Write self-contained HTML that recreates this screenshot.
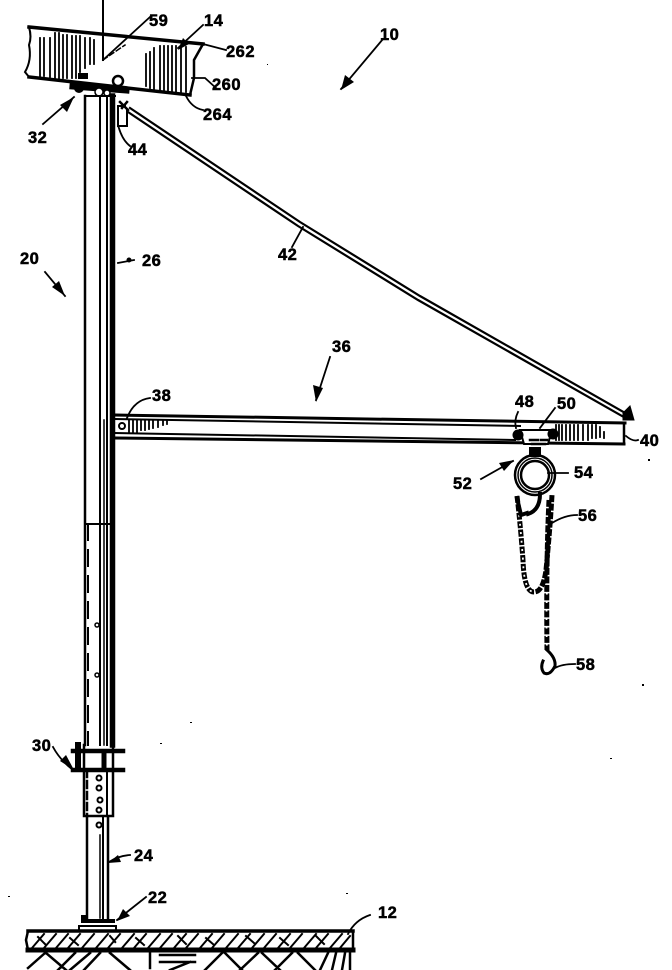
<!DOCTYPE html>
<html><head><meta charset="utf-8"><style>
html,body{margin:0;padding:0;background:#fff}
svg{display:block}
text{font-family:"Liberation Sans",sans-serif;font-size:16.500px;font-weight:bold;fill:#000;stroke:#000;stroke-width:.5px;letter-spacing:.5px}
</style></head><body>
<svg width="672" height="970" viewBox="0 0 672 970" xmlns="http://www.w3.org/2000/svg">
<rect width="672" height="970" fill="#fff"/>
<g fill="none" stroke="#000" stroke-width="2" stroke-linecap="square">
<!-- vertical line -->
<path d="M103 0V60" stroke-width="2"/>
<path d="M103 60L125 45" stroke-width="1.500" stroke-dasharray="5 3"/>
<!-- beam -->
<path d="M29 27L203 44" stroke-width="3.500"/>
<path d="M29 77L190 95" stroke-width="3.500"/>
<path d="M29 27Q32 37 29 45Q32 60 25 72L29 77" stroke-width="2"/>
<path d="M203 44L194 60V78L190 95" stroke-width="2.500"/>
<path d="M40 38V76M44 38V76M50 38V77M55 33V78M59 33V78M63 35V78M67 35V78M72 36V78M76 36V78M80 36V72M85 38V68M90 38V64M94 40V64M146 54V86M150 52V88M154 48V89M160 46V90M164 46V90M168 46V91M172 46V91M176 46V92M181 47V92M186 47V92" stroke-width="1.800"/>
<!-- plate & bolts -->
<path d="M73 86L126 90" stroke-width="7"/>
<rect x="78" y="73" width="10" height="6" fill="#000" stroke="none"/>
<circle cx="118" cy="81" r="5" fill="#fff" stroke-width="2.500"/>
<circle cx="99" cy="92" r="4" fill="#fff" stroke-width="1.500"/>
<circle cx="107" cy="93" r="3" fill="#fff" stroke-width="1.500"/>
<circle cx="79" cy="88" r="5" fill="#000" stroke="none"/>
<!-- upper column -->
<path d="M85 96V745" stroke-width="2.500"/>
<path d="M100 96V745" stroke-width="2"/>
<path d="M107 96V745" stroke-width="2"/>
<path d="M85 96H115" stroke-width="2"/>
<path d="M112.500 96V745" stroke-width="5.500"/>
<path d="M85 524H110" stroke-width="2"/>
<path d="M88 524V745" stroke-width="2" stroke-dasharray="16 10"/>
<path d="M104 420V745" stroke-width="1.500"/>
<circle cx="97" cy="625" r="2" stroke-width="1.500"/><circle cx="97" cy="675" r="2" stroke-width="1.500"/>
<!-- boom -->
<path d="M115 415L625 423" stroke-width="3"/>
<path d="M115 419L520 426" stroke-width="2"/>
<path d="M115 433L515 440" stroke-width="2"/>
<path d="M115 438L624 444" stroke-width="3"/>
<path d="M624 423V444" stroke-width="2.500"/>
<circle cx="122" cy="426" r="3" stroke-width="2"/>
<path d="M129 420V432M133 420V432M137 420V432M141 420V430M145 420V430M149 420V429M153 420V428M158 420V427M163 420V425M167 420V424M556 425V440M559 425V440M562 425V440M566 425V440M570 425V440M574 425V440M578 425V440M583 425V440M588 425V440M592 425V438M596 425V438M600 427V437M604 432V438" stroke-width="1.800"/>
<!-- cable -->
<path d="M130 108L300 222L420 296L627 414" stroke-width="2.200"/>
<path d="M128 112L298 226L418 300L622 416" stroke-width="2.200"/>
<path d="M623 413L630 406L634 420H623Z" fill="#000" stroke-width="1"/>
<!-- bracket 44 -->
<path d="M118 106H125M118 106V126H127V110" stroke-width="2"/>
<path d="M120 102L128 110M127 102L122 108" stroke-width="2.500"/>
<!-- trolley -->
<path d="M520 430H552L548 444H524Z" fill="#fff" stroke-width="2"/>
<circle cx="518" cy="435" r="5.500" fill="#000" stroke="none"/>
<circle cx="553" cy="434" r="5.500" fill="#000" stroke="none"/>
<path d="M530 440H538M541 440H547M532 444H545" stroke-width="2.500"/>
<rect x="529" y="447" width="12" height="10" fill="#000" stroke="none"/>
<!-- hoist -->
<circle cx="535" cy="475" r="20" stroke-width="2.500"/>
<circle cx="535" cy="475" r="17" stroke-width="1.500"/>
<circle cx="535" cy="475" r="14" stroke-width="2.500"/>
<path d="M540 494Q540 510 528 514" stroke-width="4"/>
</g>
<!-- chains -->
<g fill="none" stroke="#000" stroke-linecap="butt">
<path d="M517 496Q520 520 523 560Q524 592 534 592Q543 592 546 570Q550 530 552 495" stroke-width="5" stroke-dasharray="7 1.500"/>
<path d="M549 500Q546 560 547 650" stroke-width="5" stroke-dasharray="7 1.500"/>
<path d="M517 496Q520 520 523 560Q524 592 534 592" stroke="#fff" stroke-width="1.800" stroke-dasharray="2 6.500" stroke-dashoffset="-2.500"/>
<path d="M547 590Q546 620 547 650" stroke="#fff" stroke-width="1.800" stroke-dasharray="2 6.500" stroke-dashoffset="-2.500"/>
</g>
<g fill="none" stroke="#000" stroke-width="2" stroke-linecap="square">
<path d="M517 498L521 515L527 513" stroke-width="4"/>
<path d="M547 650Q556 658 555 666Q550 676 544 673Q540 668 543 661" stroke-width="3"/>
<!-- lower sleeve -->
<path d="M84 745V816H113V745" stroke-width="2.500"/>
<path d="M73 751H123" stroke-width="4.500"/>
<path d="M73 770H123" stroke-width="4.500"/>
<path d="M78 745V768" stroke-width="6"/><path d="M104 752V768" stroke-width="5"/>
<path d="M87 770V816" stroke-width="2.500" stroke-dasharray="7 4"/>
<path d="M107 770V816" stroke-width="2"/>
<circle cx="99" cy="778" r="2.500"/><circle cx="99" cy="788" r="2.500"/><circle cx="100" cy="800" r="2.500"/><circle cx="99" cy="810" r="2.500"/><circle cx="99" cy="825" r="2.500"/>
<!-- lower post -->
<path d="M87 817V920" stroke-width="2.500"/>
<path d="M108 817V920" stroke-width="2.500"/>
<path d="M103 817V918" stroke-width="2"/>
<path d="M100 835V918" stroke-width="1.500"/>
<path d="M83 921H113" stroke-width="4"/>
<path d="M79 926H116V931H79Z" stroke-width="2"/>
<rect x="81" y="915" width="6" height="6" fill="#000" stroke="none"/>
<!-- ground -->
<path d="M28 931H353" stroke-width="3.500"/>
<path d="M28 950H353" stroke-width="5"/>
<path d="M28 931L26 940L28 950M353 931V950" stroke-width="2.500"/>
<path d="M32 948L44 934M44 948L56 934M56 948L68 934M68 948L80 934M82 948L94 934M96 948L108 934M108 948L120 934M122 948L134 934M134 948L146 934M148 948L160 934M160 948L172 934M174 948L186 934M186 948L198 934M200 948L212 934M212 948L224 934M226 948L238 934M238 948L250 934M252 948L264 934M264 948L276 934M278 948L290 934M290 948L302 934M304 948L316 934M316 948L328 934M330 948L342 934M340 948L350 936" stroke-width="2"/>
<path d="M38 937L46 945M70 938L78 945M110 936L116 943M136 938L144 945M178 936L186 944M206 938L214 945M246 936L254 943M280 938L288 945M316 936L324 944" stroke-width="2" stroke-dasharray="3 2"/>
<path d="M28 968L45 953M46 953L66 970M58 970L75 953M90 953L70 970M84 970L100 953M110 953L130 970M150 953V968M160 955H195M160 962H195M170 970L190 962M205 970L222 953M225 953L242 970M240 970L258 953M262 953L280 970M275 970L292 953M298 953L315 970M320 970L328 953M332 970L336 953M342 970L345 953M350 970V953" stroke-width="2.500"/>
<!-- leaders and arrows -->
<g stroke-width="1.800">
<path d="M150 17L103 60"/>
<path d="M203 25L178 48"/>
<path d="M203 44L226 50"/>
<path d="M192 78H205L216 88"/>
<path d="M186 96Q192 108 203 110"/>
<path d="M43 124L74 97"/>
<path d="M118 125Q122 140 130 146"/>
<path d="M383 39L341 89"/>
<path d="M134 260L118 263"/>
<path d="M45 272L65 296"/>
<path d="M292 247L303 227"/>
<path d="M330 357L316 400"/>
<path d="M150 398Q134 400 127 418"/>
<path d="M518 412Q514 420 516 428"/>
<path d="M555 408L540 428"/>
<path d="M481 479L513 461"/>
<path d="M568 473H548"/>
<path d="M577 515Q565 515 552 523"/>
<path d="M575 664Q562 664 555 668"/>
<path d="M626 436Q633 442 638 440"/>
<path d="M53 747Q60 760 73 770"/>
<path d="M130 855Q118 856 109 862"/>
<path d="M146 897L117 920"/>
<path d="M370 915Q355 920 348 934"/>
</g>
</g>
<g fill="#000">
<path d="M341 90L345 75L354 82Z"/>
<path d="M74 97L60 105L67 112Z"/>
<path d="M65 296L52 287L59 281Z"/>
<path d="M316 402L313 385L323 388Z"/>
<path d="M514 460L499 463L504 471Z"/>
<path d="M74 770L60 761L66 755Z"/>
<path d="M108 863L118 855L121 862Z"/>
<path d="M117 921L123 909L130 916Z"/>
<path d="M178 50L183 38L189 44Z"/>
<circle cx="129" cy="260" r="2.500"/>
<rect x="267" y="64" width="1" height="1"/><rect x="610" y="758" width="2" height="1"/><rect x="8" y="896" width="2" height="1"/><rect x="160" y="743" width="2" height="1"/><rect x="648" y="459" width="2" height="2"/>
<rect x="642" y="684" width="2" height="2"/><rect x="346" y="893" width="2" height="1"/><rect x="190" y="722" width="2" height="1"/>
</g>
<g>
<text x="149" y="26">59</text>
<text x="204" y="26">14</text>
<text x="226" y="57">262</text>
<text x="212" y="90">260</text>
<text x="203" y="120">264</text>
<text x="28" y="143">32</text>
<text x="128" y="155">44</text>
<text x="380" y="40">10</text>
<text x="20" y="264">20</text>
<text x="142" y="266">26</text>
<text x="278" y="260">42</text>
<text x="332" y="352">36</text>
<text x="152" y="401">38</text>
<text x="515" y="407">48</text>
<text x="557" y="409">50</text>
<text x="640" y="446">40</text>
<text x="453" y="489">52</text>
<text x="574" y="478">54</text>
<text x="578" y="521">56</text>
<text x="576" y="670">58</text>
<text x="32" y="751">30</text>
<text x="134" y="861">24</text>
<text x="148" y="903">22</text>
<text x="378" y="918">12</text>
</g>
</svg>
</body></html>
